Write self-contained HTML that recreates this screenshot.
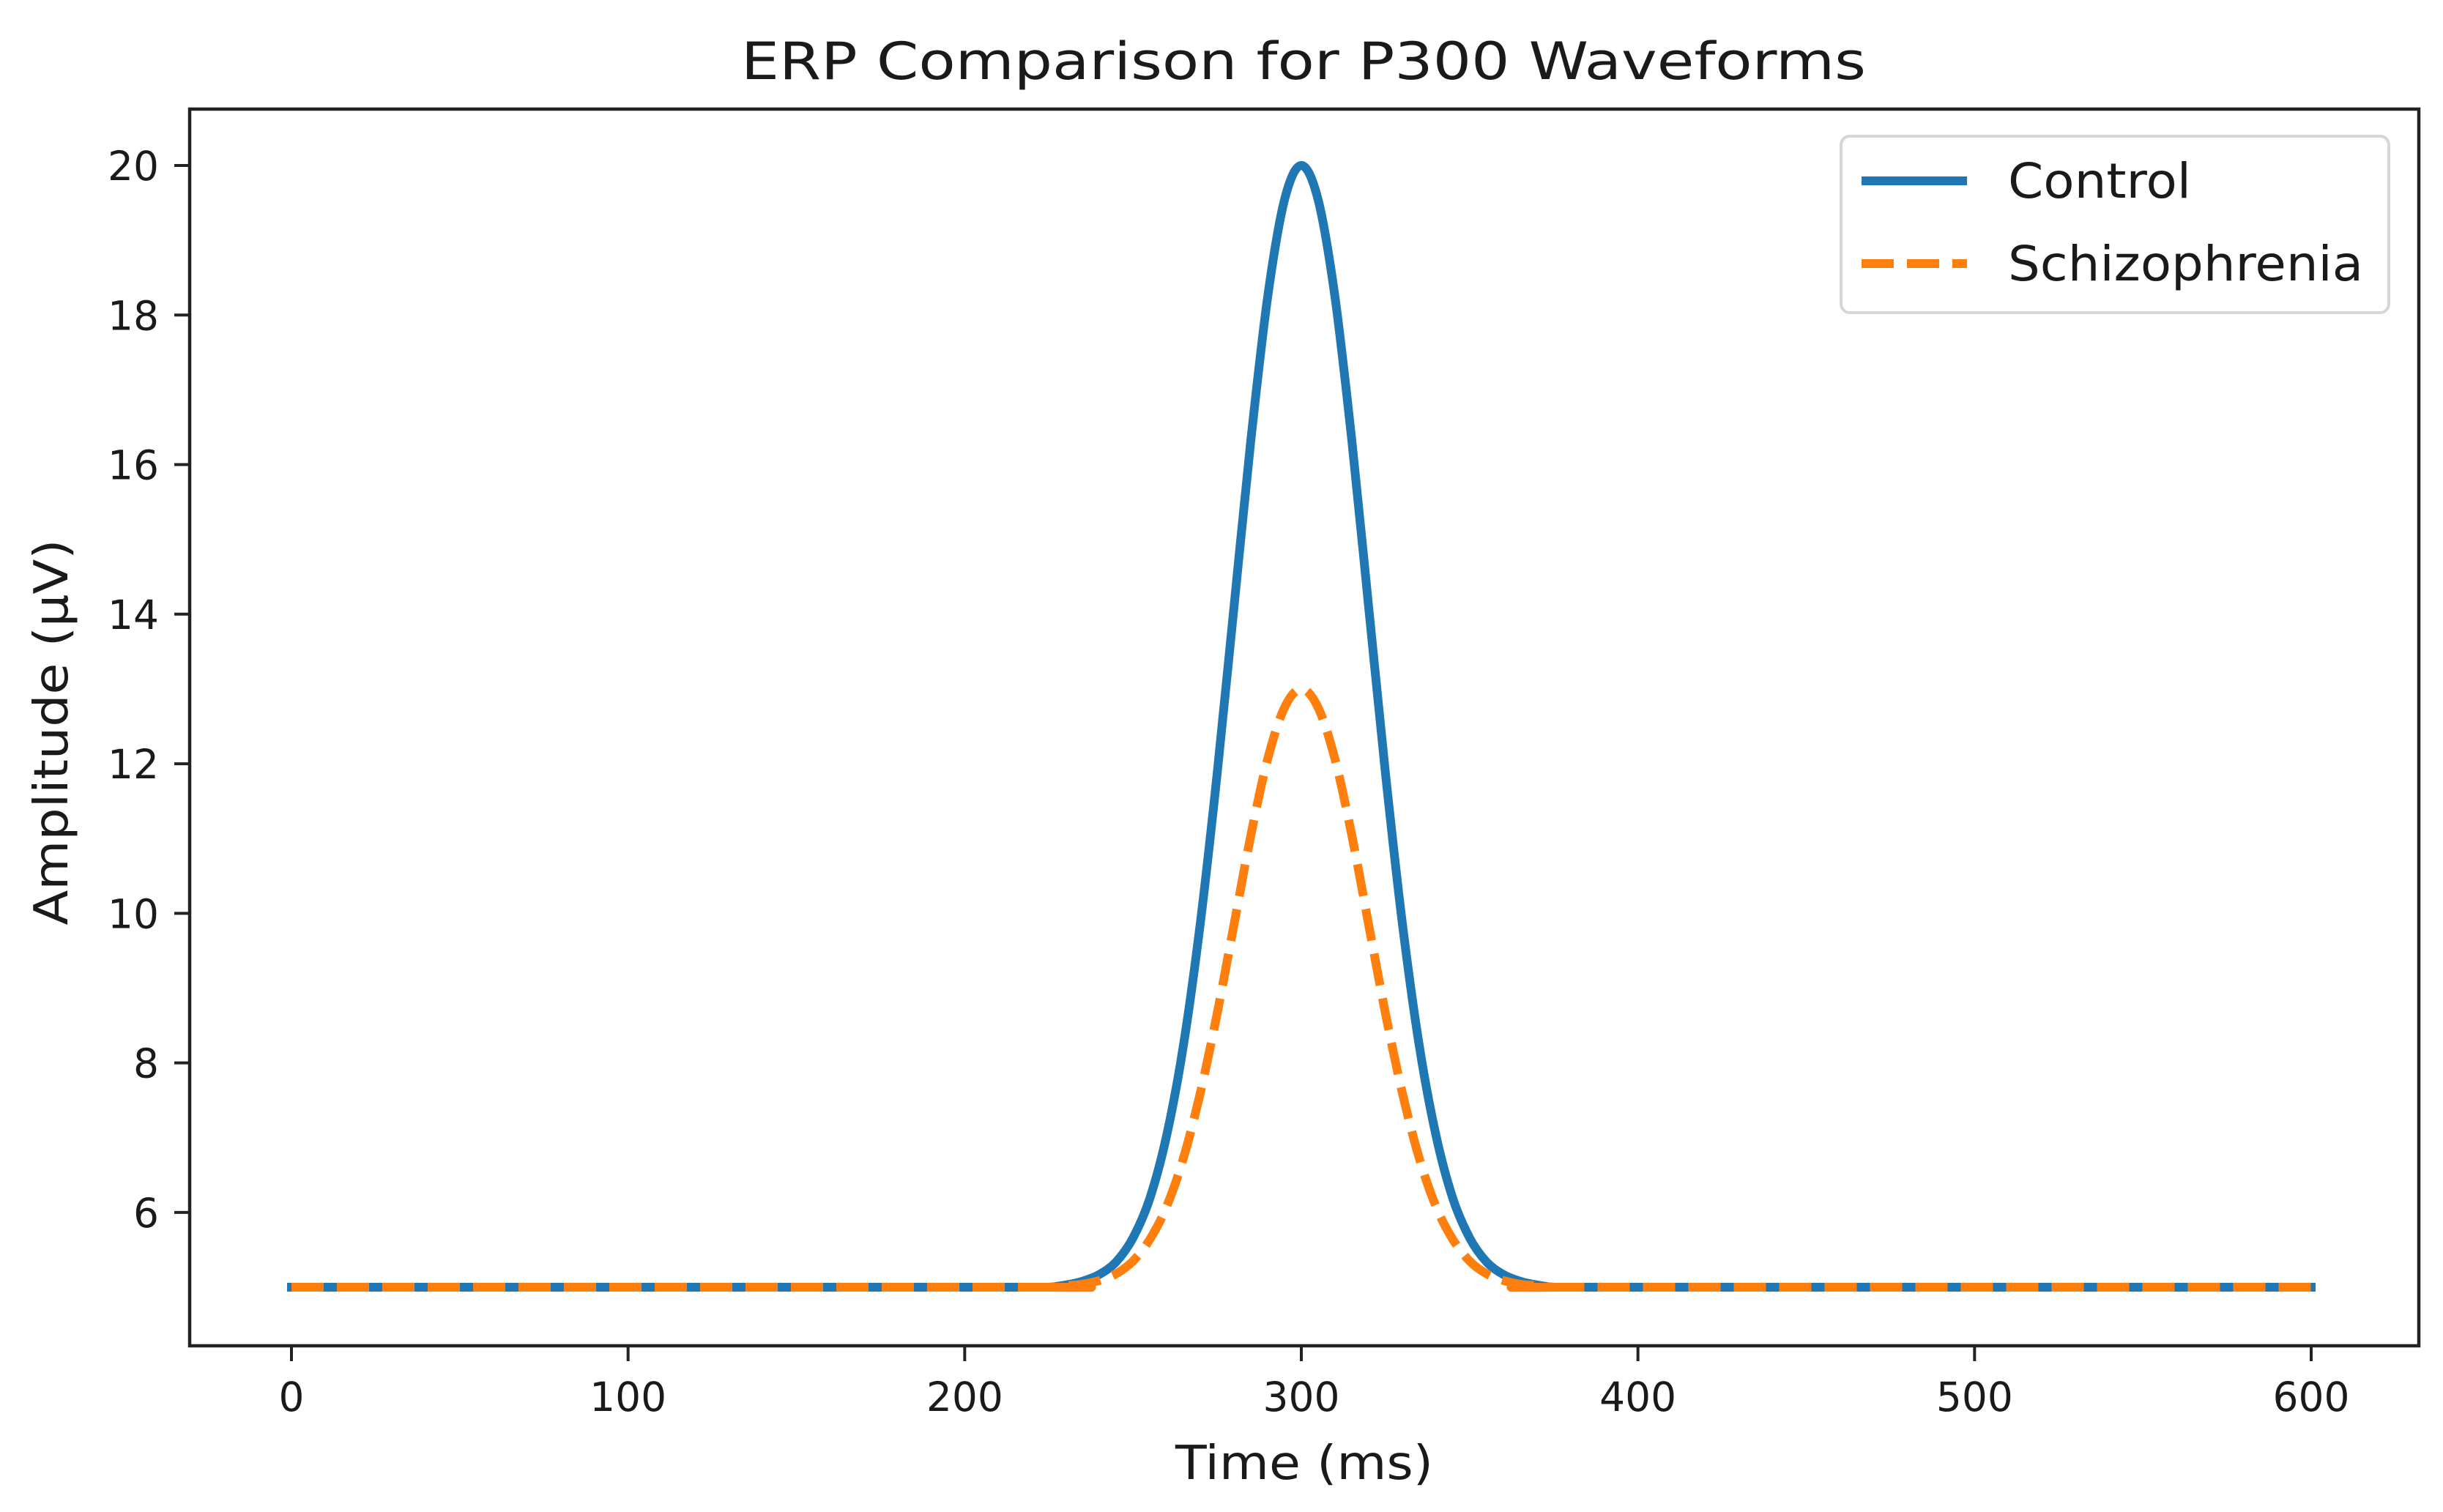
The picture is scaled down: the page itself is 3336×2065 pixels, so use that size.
<!DOCTYPE html>
<html><head><meta charset="utf-8"><style>
html,body{margin:0;padding:0;background:#fff;}
svg{display:block;}
text{font-family:"DejaVu Sans","Liberation Sans",sans-serif;fill:#1a1a1a;}
</style></head><body>
<svg id="chart" width="3336" height="2065" viewBox="0 0 3336 2065" xmlns="http://www.w3.org/2000/svg">
<rect x="0" y="0" width="3336" height="2065" fill="#fff"/>
<text x="1780" y="108" font-size="70" text-anchor="middle" textLength="1536" lengthAdjust="spacingAndGlyphs">ERP Comparison for P300 Waveforms</text>
<g id="series"></g>
<g id="axes"></g>
<rect x="259" y="149" width="3044" height="1689" fill="none" stroke="#222" stroke-width="4.5"/>
<text x="1781" y="2020" font-size="64" text-anchor="middle" textLength="352" lengthAdjust="spacingAndGlyphs">Time (ms)</text>
<text x="0" y="0" font-size="64" text-anchor="middle" transform="translate(92,1000) rotate(-90)" textLength="527" lengthAdjust="spacingAndGlyphs">Amplitude (μV)</text>
<g>
<rect x="2514" y="186" width="748" height="241" rx="12" fill="#fff" fill-opacity="0.8" stroke="#d6d6d6" stroke-width="4"/>
<line x1="2542" y1="247" x2="2686" y2="247" stroke="#1f77b4" stroke-width="12"/>
<text x="2742" y="270" font-size="66" textLength="250" lengthAdjust="spacingAndGlyphs">Control</text>
<line x1="2542" y1="360" x2="2686" y2="360" stroke="#ff7f0e" stroke-width="12" stroke-dasharray="44 18"/>
<text x="2742" y="383" font-size="66" textLength="485" lengthAdjust="spacingAndGlyphs">Schizophrenia</text>
</g>
</svg>
<script>
const times = [0,220,225,230,235,240,245,250,255,260,265,270,275,280,285,290,295,300,305,310,315,320,325,330,335,340,345,350,355,360,365,370,375,380,600];
const controlValues = [5,5.00,5.00,5.03,5.08,5.17,5.34,5.66,6.19,7.03,8.24,9.87,11.87,14.10,16.32,18.24,19.54,20,19.54,18.24,16.32,14.10,11.87,9.87,8.24,7.03,6.19,5.66,5.34,5.17,5.08,5.03,5.00,5.00,5];
const schizoValues = [5,5.00,5.00,5.02,5.04,5.09,5.18,5.35,5.64,6.08,6.73,7.60,8.66,9.85,11.04,12.06,12.75,13,12.75,12.06,11.04,9.85,8.66,7.60,6.73,6.08,5.64,5.35,5.18,5.09,5.04,5.02,5.00,5.00,5];
const xTicks = [0,100,200,300,400,500,600];
const yTicks = [6,8,10,12,14,16,18,20];

const NS = "http://www.w3.org/2000/svg";
const X0 = 398, X1 = 3156, Y5 = 1758, Y20 = 226;
function xScale(t){ return X0 + (t - 0) * (X1 - X0) / 600; }
function yScale(v){ return Y5 + (v - 5) * (Y20 - Y5) / 15; }

function pathFor(vals){
  const pts = times.map((t,i)=>[xScale(t), yScale(vals[i])]);
  let d = "M" + pts[0][0].toFixed(1) + "," + pts[0][1].toFixed(1);
  for (let i = 0; i < pts.length - 1; i++) {
    const p0 = pts[Math.max(0,i-1)], p1 = pts[i], p2 = pts[i+1], p3 = pts[Math.min(pts.length-1,i+2)];
    if (i === 0 || i === pts.length - 2) { d += " L" + p2[0].toFixed(1) + "," + p2[1].toFixed(1); continue; }
    const c1 = [p1[0] + (p2[0]-p0[0])/6, p1[1] + (p2[1]-p0[1])/6];
    const c2 = [p2[0] - (p3[0]-p1[0])/6, p2[1] - (p3[1]-p1[1])/6];
    d += " C" + c1[0].toFixed(1) + "," + c1[1].toFixed(1) + " " + c2[0].toFixed(1) + "," + c2[1].toFixed(1) + " " + p2[0].toFixed(1) + "," + p2[1].toFixed(1);
  }
  return d;
}

const series = document.getElementById("series");
const ctrl = document.createElementNS(NS, "path");
ctrl.setAttribute("d", pathFor(controlValues));
ctrl.setAttribute("fill", "none");
ctrl.setAttribute("stroke", "#1f77b4");
ctrl.setAttribute("stroke-width", "12");
ctrl.setAttribute("stroke-linecap", "square");


series.appendChild(ctrl);

const sz = document.createElementNS(NS, "path");
sz.setAttribute("d", pathFor(schizoValues));
sz.setAttribute("fill", "none");
sz.setAttribute("stroke", "#ff7f0e");
sz.setAttribute("stroke-width", "12");
sz.setAttribute("stroke-dasharray", "44 18");


series.appendChild(sz);

const axes = document.getElementById("axes");
xTicks.forEach(t => {
  const x = xScale(t);
  const ln = document.createElementNS(NS, "line");
  ln.setAttribute("x1", x); ln.setAttribute("x2", x);
  ln.setAttribute("y1", 1838); ln.setAttribute("y2", 1859);
  ln.setAttribute("stroke", "#222"); ln.setAttribute("stroke-width", "4");
  
  
  axes.appendChild(ln);
  const tx = document.createElementNS(NS, "text");
  tx.setAttribute("x", x); tx.setAttribute("y", 1927);
  tx.setAttribute("font-size", "55"); tx.setAttribute("text-anchor", "middle");
  tx.textContent = String(t);
  
  
  axes.appendChild(tx);
});
yTicks.forEach(v => {
  const y = yScale(v);
  const ln = document.createElementNS(NS, "line");
  ln.setAttribute("x1", 238); ln.setAttribute("x2", 259);
  ln.setAttribute("y1", y); ln.setAttribute("y2", y);
  ln.setAttribute("stroke", "#222"); ln.setAttribute("stroke-width", "4");
  
  
  axes.appendChild(ln);
  const tx = document.createElementNS(NS, "text");
  tx.setAttribute("x", 217); tx.setAttribute("y", y + 20);
  tx.setAttribute("font-size", "55"); tx.setAttribute("text-anchor", "end");
  tx.textContent = String(v);
  
  
  axes.appendChild(tx);
});
</script>
</body></html>
